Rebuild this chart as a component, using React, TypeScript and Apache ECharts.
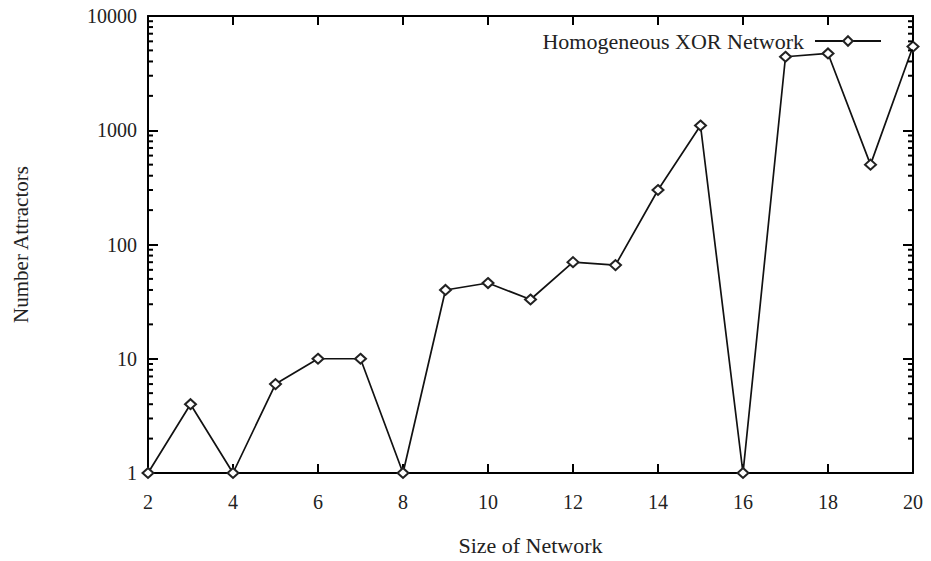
import React, { useEffect, useRef } from 'react';
import * as echarts from 'echarts';

const sizes = [2, 3, 4, 5, 6, 7, 8, 9, 10, 11, 12, 13, 14, 15, 16, 17, 18, 19, 20];
const attractors = [1, 4, 1, 6, 10, 10, 1, 40, 46, 33, 70, 66, 300, 1100, 1, 4400, 4700, 500, 5400];
const seriesName = 'Homogeneous XOR Network';
const xAxisTitle = 'Size of Network';
const yAxisTitle = 'Number Attractors';
const decades = [1, 10, 100, 1000];
const minorMultipliers = [2, 3, 4, 5, 6, 7, 8, 9];

const FONT = '"Liberation Serif", "Times New Roman", serif';

export default function App() {
  const ref = useRef<HTMLDivElement>(null);
  useEffect(() => {
    document.body.style.margin = '0';
    const chart = echarts.init(ref.current!, null, { renderer: 'svg' });
    const axisLine = { show: true, lineStyle: { color: '#000', width: 2 } };
    const option: any = {
      animation: false,
      backgroundColor: '#fff',
      grid: { left: 148, right: 18, top: 16, bottom: 88, containLabel: false, outerBoundsMode: 'none' },
      legend: {
        data: [seriesName],
        right: 44,
        top: 25,
        align: 'right',
        itemWidth: 66,
        itemHeight: 12,
        textStyle: { fontFamily: FONT, fontSize: 22, color: '#222', padding: [0, 6, 0, 0] },
      },
      xAxis: [
        {
          type: 'value',
          min: 2,
          max: 20,
          interval: 2,
          name: xAxisTitle,
          nameLocation: 'middle',
          nameGap: 61,
          nameTextStyle: { fontFamily: FONT, fontSize: 22, color: '#222' },
          axisLine,
          axisTick: { show: true, inside: true, length: 9, lineStyle: { color: '#000', width: 2 } },
          axisLabel: { fontFamily: FONT, fontSize: 20, color: '#222', margin: 19 },
          splitLine: { show: false },
        },
        {
          type: 'value',
          position: 'top',
          min: 2,
          max: 20,
          interval: 2,
          axisLine,
          axisTick: { show: true, inside: true, length: 9, lineStyle: { color: '#000', width: 2 } },
          axisLabel: { show: false },
          splitLine: { show: false },
        },
      ],
      yAxis: [
        {
          type: 'log',
          logBase: 10,
          min: 1,
          max: 10000,
          name: yAxisTitle,
          nameLocation: 'middle',
          nameGap: 117,
          nameTextStyle: { fontFamily: FONT, fontSize: 21, color: '#222' },
          axisLine,
          axisTick: { show: true, inside: true, length: 10, lineStyle: { color: '#000', width: 2 } },
          axisLabel: {
            fontFamily: FONT,
            fontSize: 20,
            color: '#222',
            margin: 11,
            formatter: (v: number) => String(Math.round(v)),
          },
          splitLine: { show: false },
        },
        {
          type: 'log',
          logBase: 10,
          min: 1,
          max: 10000,
          position: 'right',
          axisLine,
          axisTick: { show: true, inside: true, length: 10, lineStyle: { color: '#000', width: 2 } },
          axisLabel: { show: false },
          splitLine: { show: false },
        },
      ],
      series: [
        {
          name: seriesName,
          type: 'line',
          data: sizes.map((s, i) => [s, attractors[i]]),
          symbol: 'emptyDiamond',
          symbolSize: [11, 10],
          itemStyle: { color: '#222', borderWidth: 1 },
          lineStyle: { color: '#111', width: 1.7 },
          clip: false,
          z: 5,
        },
      ],
    };
    chart.setOption(option);

    const xl = chart.convertToPixel({ xAxisIndex: 0 }, sizes[0]) as number;
    const xr = chart.convertToPixel({ xAxisIndex: 0 }, sizes[sizes.length - 1]) as number;
    const elements: any[] = [];
    decades.forEach((d) => {
      minorMultipliers.forEach((m) => {
        const y = chart.convertToPixel({ yAxisIndex: 0 }, d * m) as number;
        elements.push({
          type: 'line',
          shape: { x1: xl, y1: y, x2: xl + 5, y2: y },
          style: { stroke: '#000', lineWidth: 2 },
          z: 10,
        });
        elements.push({
          type: 'line',
          shape: { x1: xr - 5, y1: y, x2: xr, y2: y },
          style: { stroke: '#000', lineWidth: 2 },
          z: 10,
        });
      });
    });
    chart.setOption({ graphic: { elements } });

    return () => chart.dispose();
  }, []);
  return <div ref={ref} style={{ width: 931, height: 561 }} />;
}
